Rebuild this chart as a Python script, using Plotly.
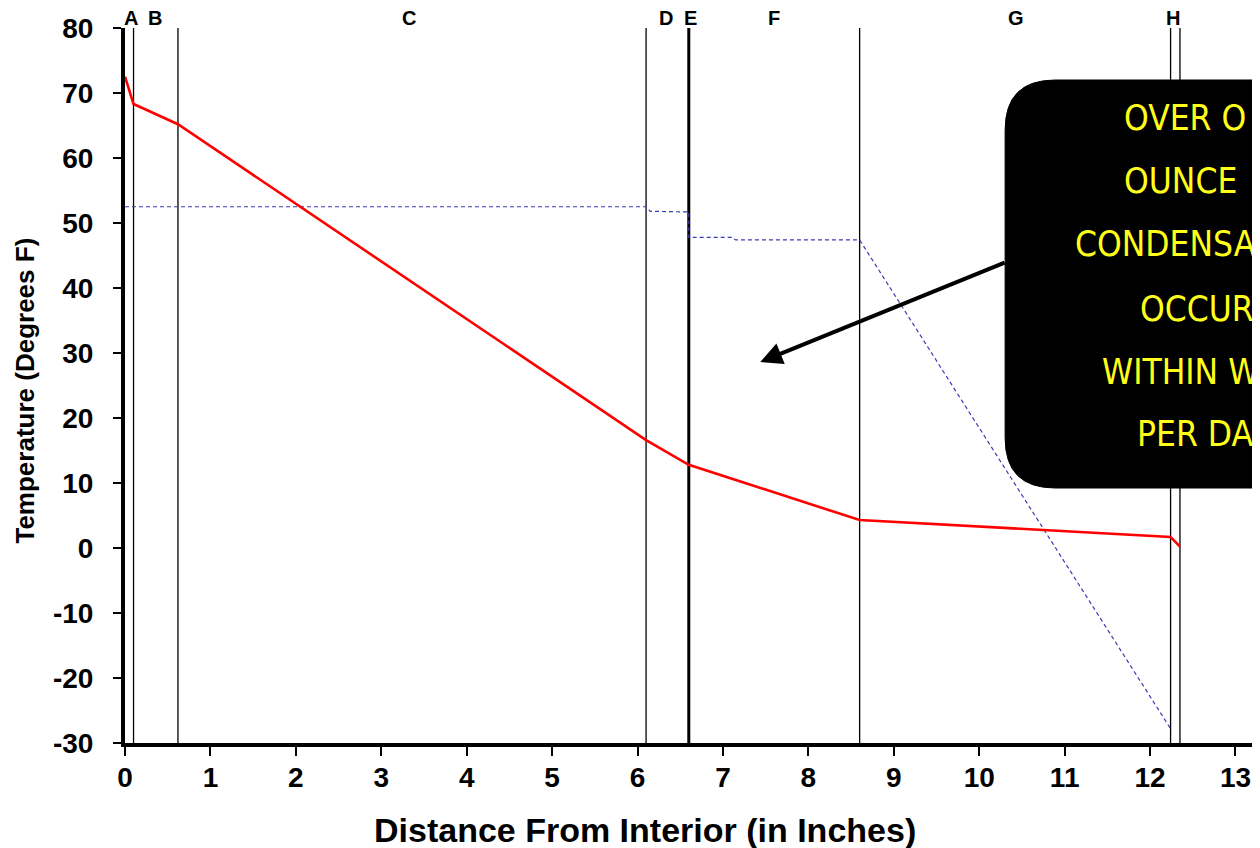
import plotly.graph_objects as go

# ---------------- data ----------------
layer_bounds = [0.1, 0.62, 6.1, 6.6, 8.6, 12.24, 12.35]
layer_widths = [1.3, 1.3, 1.3, 3.0, 1.3, 1.3, 1.3]
layer_labels = ["A", "B", "C", "D", "E", "F", "G", "H"]
layer_label_x = [0.07, 0.35, 3.33, 6.33, 6.62, 7.6, 10.43, 12.27]

temp_x = [0, 0.1, 0.62, 6.1, 6.6, 8.6, 12.24, 12.35]
temp_y = [72.5, 68.3, 65.2, 16.6, 12.8, 4.3, 1.7, 0.2]

dew_x = [0, 6.1, 6.15, 6.6, 6.6, 7.1, 7.15, 8.6, 12.24]
dew_y = [52.5, 52.5, 51.8, 51.7, 47.8, 47.8, 47.4, 47.4, -27.8]

x_ticks = list(range(0, 14))
y_ticks = list(range(-30, 81, 10))
y_tick_text = [str(v) for v in y_ticks]

# callout text as visible in the (cropped) reference
note_lines = ["OVER O", "OUNCE", "CONDENSA", "OCCUR", "WITHIN W", "PER DA"]

x_title = "Distance From Interior (in Inches)"
y_title = "Temperature (Degrees F)"

# ---------------- geometry (reference page pixels -> figure paper) ----------------
OFF = 8                      # default body margin of the html page
W, H = 1260 - OFF, 848 - OFF
PLOT_L, PLOT_T, PLOT_B = 124.5, 28, 743   # page pixels of plot area
ML = PLOT_L - OFF
MT = PLOT_T - OFF
MB = H - (PLOT_B - OFF)
MR = 0
PW, PH = W - ML - MR, H - MT - MB
PX_PER_X = 85.46

def px(x):
    return (x - OFF - ML) / PW
def py(y):
    return (PLOT_B - y) / PH
def dx(x):
    return (x - PLOT_L) / PX_PER_X
def dy(y):
    return 80 - (y - PLOT_T) * 110 / (PLOT_B - PLOT_T)

XMAX = PW / PX_PER_X

fig = go.Figure()

fig.add_trace(go.Scatter(x=dew_x, y=dew_y, mode="lines",
                         line=dict(color="#3a3ab4", width=1.2, dash="4px,3px"),
                         showlegend=False, hoverinfo="skip"))
fig.add_trace(go.Scatter(x=temp_x, y=temp_y, mode="lines",
                         line=dict(color="#ff0000", width=2.6),
                         showlegend=False, hoverinfo="skip"))

shapes = []
for xb, wb in zip(layer_bounds, layer_widths):
    shapes.append(dict(type="line", xref="x", yref="y", x0=xb, x1=xb, y0=-30, y1=80,
                       line=dict(color="black", width=wb), layer="below"))

# top black bar
shapes.append(dict(type="rect", xref="paper", yref="paper",
                   x0=px(-20), x1=px(1290), y0=py(5.5), y1=py(-20),
                   fillcolor="black", line=dict(width=0), layer="above"))

# rounded callout box
bx0, by0, bx1, by1, r = 1005, 80, 1420, 488, 50
path = (f"M {px(bx0 + r)},{py(by0)} L {px(bx1 - r)},{py(by0)} "
        f"Q {px(bx1)},{py(by0)} {px(bx1)},{py(by0 + r)} L {px(bx1)},{py(by1 - r)} "
        f"Q {px(bx1)},{py(by1)} {px(bx1 - r)},{py(by1)} L {px(bx0 + r)},{py(by1)} "
        f"Q {px(bx0)},{py(by1)} {px(bx0)},{py(by1 - r)} L {px(bx0)},{py(by0 + r)} "
        f"Q {px(bx0)},{py(by0)} {px(bx0 + r)},{py(by0)} Z")
shapes.append(dict(type="path", xref="paper", yref="paper", path=path,
                   fillcolor="black", line=dict(color="black", width=1), layer="above"))

annotations = []
for lab, lx in zip(layer_labels, layer_label_x):
    annotations.append(dict(x=lx, y=py(18), xref="x", yref="paper", text=lab,
                            showarrow=False, xanchor="center", yanchor="middle",
                            font=dict(family="Liberation Sans, Arial, sans-serif",
                                      size=20, color="black", weight="bold")))

line_start_px = [1122, 1122, 1073, 1138, 1100, 1135]
line_center_py = [118, 181, 244, 309, 372, 434]
for t, sx, cy in zip(note_lines, line_start_px, line_center_py):
    annotations.append(dict(x=px(sx), y=py(cy), xref="paper", yref="paper", text=t,
                            showarrow=False, xanchor="left", yanchor="middle",
                            font=dict(family="DejaVu Sans Condensed, Liberation Sans Narrow, sans-serif",
                                      size=35, color="#ffff1a")))

# arrow
annotations.append(dict(x=dx(760), y=dy(362), ax=dx(1006), ay=dy(262),
                        xref="x", yref="y", axref="x", ayref="y", text="",
                        showarrow=True, arrowhead=2, arrowsize=1.1, arrowwidth=4,
                        arrowcolor="black"))

# axis titles (placed where the cropped reference shows them)
annotations.append(dict(x=px(645), y=py(830), xref="paper", yref="paper", text=x_title,
                        showarrow=False, xanchor="center", yanchor="middle",
                        font=dict(family="Liberation Sans, Arial, sans-serif", size=34,
                                  color="black", weight="bold")))
annotations.append(dict(x=px(24), y=py(391), xref="paper", yref="paper", text=y_title,
                        showarrow=False, xanchor="center", yanchor="middle", textangle=-90,
                        font=dict(family="Liberation Sans, Arial, sans-serif", size=26,
                                  color="black", weight="bold")))

tickfont = dict(family="Liberation Sans, Arial, sans-serif", size=28, color="black", weight="bold")

fig.update_layout(
    width=W, height=H,
    margin=dict(l=ML, r=MR, t=MT, b=MB, autoexpand=False),
    paper_bgcolor="white", plot_bgcolor="white",
    shapes=shapes, annotations=annotations,
    xaxis=dict(range=[0, XMAX], tickvals=x_ticks, ticks="outside", ticklen=9, tickwidth=1.5,
               tickcolor="black", showline=True, linewidth=4, linecolor="black",
               showgrid=False, zeroline=False, tickfont=tickfont, automargin=False,
               ticklabelstandoff=-3),
    yaxis=dict(range=[-30, 80], tickvals=y_ticks, ticktext=y_tick_text, ticks="outside",
               ticklen=8, tickwidth=1.5, ticklabelstandoff=14,
               tickcolor="black", showline=True, linewidth=4, linecolor="black",
               showgrid=False, zeroline=False, tickfont=tickfont, automargin=False),
)

fig.write_html("out.html")
